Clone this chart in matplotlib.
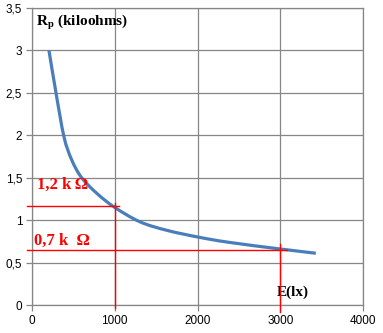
import numpy as np
import matplotlib.pyplot as plt
from matplotlib.path import Path
from matplotlib.patches import PathPatch

# illuminance (lx) and photoresistor resistance (kiloohms)
lux = [205, 290, 387, 480, 600, 790, 1000, 1305, 1630, 2010, 2370, 3000, 3430]
rp = [3.00, 2.50, 1.98, 1.71, 1.50, 1.31, 1.15, 0.98, 0.88, 0.80, 0.74, 0.66, 0.61]

# reference readings marked on the curve
ref_lux = [1000, 3000]
ref_r = [1.17, 0.65]
ref_labels = ['1,2 k\u2009Ω', '0,7 k  Ω']

x_ticks = [0, 1000, 2000, 3000, 4000]
y_ticks = [0, 0.5, 1, 1.5, 2, 2.5, 3, 3.5]
y_ticklabels = ['0', '0,5', '1', '1,5', '2', '2,5', '3', '3,5']


def smooth_path(xs, ys):
    # cubic bezier through the points (spreadsheet-style smoothed line)
    p = np.column_stack([xs, ys]).astype(float)
    n = len(p)
    verts = [p[0]]
    codes = [Path.MOVETO]
    for i in range(n - 1):
        p0 = p[i - 1] if i > 0 else p[i]
        p3 = p[i + 2] if i + 2 < n else p[i + 1]
        c1 = p[i] + (p[i + 1] - p0) / 6
        c2 = p[i + 1] - (p3 - p[i]) / 6
        verts += [c1, c2, p[i + 1]]
        codes += [Path.CURVE4] * 3
    return Path(verts, codes)


fig = plt.figure(figsize=(3.83, 3.33), dpi=100)
ax = fig.add_axes([32/383, 28/333, 331/383, 297/333])

grid_col = '#868686'
red = '#ff0000'

ax.add_patch(PathPatch(smooth_path(lux, rp), fill=False, edgecolor='#4a7ebb',
                       lw=2.3, capstyle='butt', zorder=3))

# red guide lines
ax.plot([-60, 1050], [ref_r[0]] * 2, color=red, lw=1, clip_on=False, zorder=4)
ax.plot([ref_lux[0]] * 2, [-0.04, 1.2], color=red, lw=1, clip_on=False, zorder=4)
ax.plot([-60, 3080], [ref_r[1]] * 2, color=red, lw=1, clip_on=False, zorder=4)
ax.plot([ref_lux[1]] * 2, [-0.08, 0.72], color=red, lw=1, clip_on=False, zorder=4)

serif = ['Liberation Serif', 'DejaVu Serif']
ax.text(55, 1.41, ref_labels[0], color=red, fontsize=12, fontweight='bold',
        family=serif, va='center', ha='left')
ax.text(20, 0.75, ref_labels[1], color=red, fontsize=12, fontweight='bold',
        family=serif, va='center', ha='left')
ax.text(50, 3.33, r'R$_\mathregular{p}$ (kiloohms)', color='black', fontsize=11,
        fontweight='bold', family=serif, va='center', ha='left')
ax.text(2960, 0.15, 'E(lx)', color='black', fontsize=11, fontweight='bold',
        family=serif, va='center', ha='left')

ax.set_xlim(0, 4000)
ax.set_ylim(0, 3.5)
ax.set_xticks(x_ticks)
ax.set_yticks(y_ticks)
ax.set_yticklabels(y_ticklabels)
ax.grid(True, color=grid_col, lw=0.9)
ax.set_axisbelow(True)
for s in ax.spines.values():
    s.set_color(grid_col)
    s.set_linewidth(0.9)
ax.tick_params(direction='out', length=4, width=0.9, color=grid_col,
               labelsize=8.5, pad=3)
for lab in ax.get_xticklabels() + ax.get_yticklabels():
    lab.set_family('Liberation Sans')

fig.savefig('out.png', dpi=100)
